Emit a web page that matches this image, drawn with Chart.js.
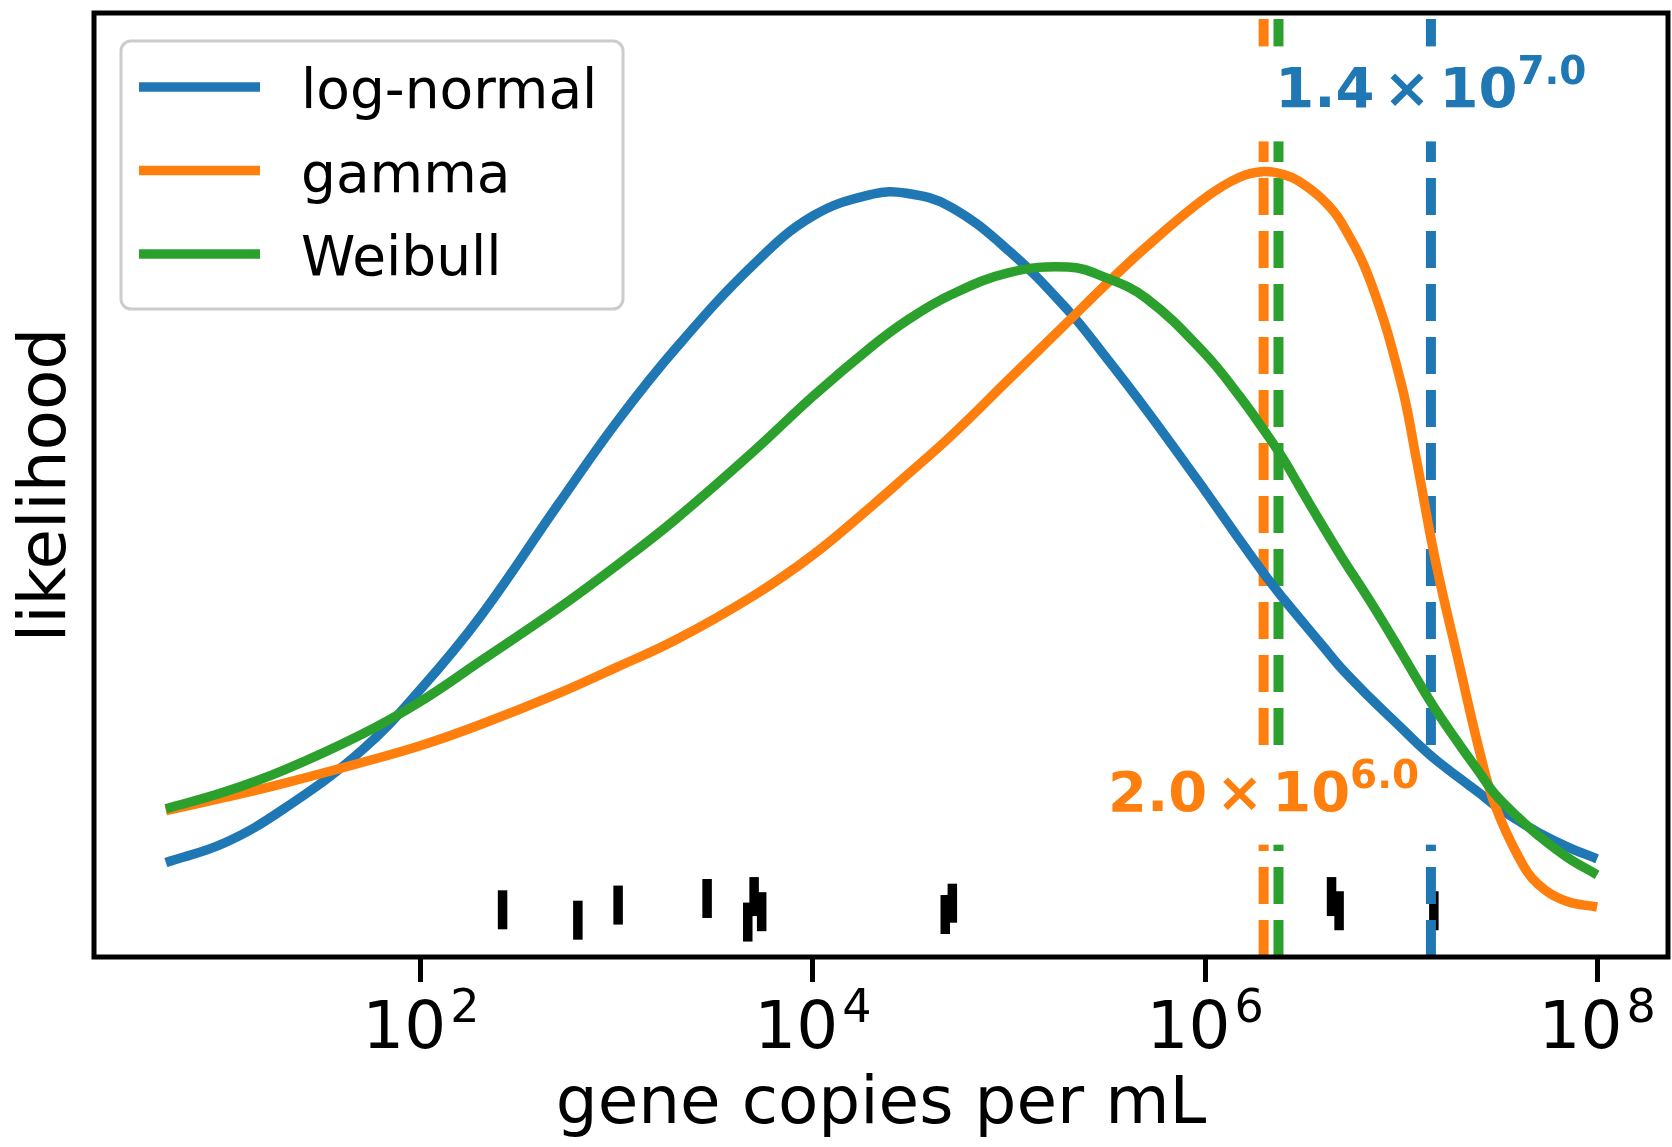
<!DOCTYPE html>
<html>
<head>
<meta charset="utf-8">
<script src="https://cdn.jsdelivr.net/npm/chart.js@4.4.0/dist/chart.umd.min.js"></script>
<style>
  html, body { margin: 0; padding: 0; background: #fff; }
  #wrap { width: 1672px; height: 1147px; }
</style>
</head>
<body>
<div id="wrap"><canvas id="likelihoodChart" width="1672" height="1147"></canvas></div>
<script>
// x positions (gene copies per mL) shared by the three fitted curves
const copies = [5, 10, 20, 50, 100, 200, 500, 1e3, 2e3, 5e3, 1e4, 2e4, 3e4, 5e4, 1e5, 2e5, 3e5, 5e5,
  1e6, 1.5e6, 2e6, 2.5e6, 3e6, 4e6, 5e6, 7e6, 1e7, 1.2e7, 1.5e7, 2e7, 2.5e7, 3e7, 4e7, 5e7, 7e7, 1e8];

// likelihood (arbitrary units, axis runs 0..1)
const logNormal = [0.100, 0.121, 0.157, 0.219, 0.284, 0.360, 0.479, 0.567, 0.645, 0.734, 0.785, 0.808,
  0.809, 0.795, 0.748, 0.685, 0.640, 0.580, 0.494, 0.442, 0.406, 0.380, 0.360, 0.329, 0.305, 0.274,
  0.243, 0.227, 0.209, 0.189, 0.174, 0.161, 0.144, 0.132, 0.117, 0.104];
const gamma = [0.155, 0.169, 0.184, 0.206, 0.224, 0.246, 0.279, 0.307, 0.336, 0.383, 0.426, 0.478,
  0.510, 0.551, 0.612, 0.673, 0.709, 0.752, 0.804, 0.826, 0.832, 0.829, 0.822, 0.802, 0.777, 0.715,
  0.608, 0.526, 0.419, 0.306, 0.220, 0.162, 0.105, 0.077, 0.059, 0.053];
const weibull = [0.157, 0.175, 0.198, 0.236, 0.271, 0.313, 0.369, 0.415, 0.464, 0.536, 0.594, 0.647,
  0.674, 0.701, 0.725, 0.731, 0.721, 0.698, 0.639, 0.594, 0.558, 0.528, 0.500, 0.456, 0.423, 0.376,
  0.323, 0.295, 0.262, 0.224, 0.196, 0.173, 0.147, 0.129, 0.106, 0.087];

// measured samples drawn as a rug (y is only jitter)
const sampleX = [261, 632, 1014, 2884, 4650, 5010, 5475, 47300, 51400, 4.42e6, 4.83e6, 1.47e7];
const sampleY = [0.050, 0.039, 0.055, 0.062, 0.037, 0.064, 0.048, 0.045, 0.057, 0.064, 0.049, 0.049];

const names = ['log-normal', 'gamma', 'Weibull'];
const colors = ['#1f77b4', '#ff7f0e', '#2ca02c'];

// fitted values shown as dashed lines (log-normal, gamma, Weibull)
const fitValues = [1.42e7, 1.99e6, 2.37e6];

// annotations: anchor x, baseline y, mantissa, exponent, series
const noteX = [1.42e7, 1.99e6];
const noteY = [0.900, 0.155];
const noteMantissa = ['1.4', '2.0'];
const noteExponent = ['7.0', '6.0'];
const noteSeries = [0, 1];

const xTicks = [1e2, 1e4, 1e6, 1e8];
const xTickExponents = ['2', '4', '6', '8'];

const FONT = '"DejaVu Sans", "Liberation Sans", sans-serif';

function curveDataset(values, i, order) {
  return {
    label: names[i],
    data: copies.map((x, k) => ({ x: x, y: values[k] })),
    borderColor: colors[i],
    borderWidth: 9.5,
    pointRadius: 0,
    tension: 0.4,
    fill: false,
    order: order
  };
}

function fitLineDataset(i) {
  return {
    label: 'fit ' + names[i],
    data: [{ x: fitValues[i], y: 0 }, { x: fitValues[i], y: 1 }],
    borderColor: colors[i],
    borderWidth: 10,
    borderDash: [37, 16],
    borderCapStyle: 'butt',
    pointRadius: 0,
    fill: false,
    order: 4
  };
}

const datasets = [
  curveDataset(logNormal, 0, 3),
  curveDataset(gamma, 1, 2),
  curveDataset(weibull, 2, 1),
  fitLineDataset(0),
  fitLineDataset(1),
  fitLineDataset(2),
  {
    label: 'samples',
    data: sampleX.map((x, k) => ({ x: x, y: sampleY[k] })),
    showLine: false,
    pointStyle: 'line',
    pointRotation: 90,
    pointRadius: 19.5,
    pointHoverRadius: 19.5,
    pointBorderWidth: 9.5,
    pointBorderColor: '#000',
    pointBackgroundColor: '#000',
    order: 5
  }
];
const lastFitIndex = 3; // drawn last among the dashed lines

function drawSciLabel(ctx, cx, baseY, mantissa, exponent, color) {
  const big = 'bold 56px ' + FONT;
  const small = 'bold 39px ' + FONT;
  ctx.font = big;
  const wM = ctx.measureText(mantissa).width;
  const wX = ctx.measureText('×').width;
  const wT = ctx.measureText('10').width;
  ctx.font = small;
  const wE = ctx.measureText(exponent).width;
  const gap = 9;
  const total = wM + gap + wX + gap + wT + wE;
  let x = cx - total / 2;

  ctx.fillStyle = '#fff';
  ctx.fillRect(x - 20, baseY - 61, total + 40, 95);

  ctx.fillStyle = color;
  ctx.textAlign = 'left';
  ctx.textBaseline = 'alphabetic';
  ctx.font = big;
  ctx.fillText(mantissa, x, baseY);
  x += wM + gap;
  ctx.fillText('×', x, baseY);
  x += wX + gap;
  ctx.fillText('10', x, baseY);
  x += wT;
  ctx.font = small;
  ctx.fillText(exponent, x, baseY - 23);
}

const notesPlugin = {
  id: 'notes',
  afterDatasetDraw(chart, args) {
    if (args.index !== lastFitIndex) return;
    const ctx = chart.ctx;
    const xs = chart.scales.x, ys = chart.scales.y;
    ctx.save();
    noteX.forEach((v, k) => {
      drawSciLabel(ctx, xs.getPixelForValue(v), ys.getPixelForValue(noteY[k]),
        noteMantissa[k], noteExponent[k], colors[noteSeries[k]]);
    });
    ctx.restore();
  }
};

const framePlugin = {
  id: 'frame',
  afterDatasetsDraw(chart) {
    const { ctx, chartArea: a } = chart;
    ctx.save();
    ctx.strokeStyle = '#000';
    ctx.lineWidth = 5;
    ctx.strokeRect(a.left, a.top, a.right - a.left, a.bottom - a.top);
    ctx.restore();
  }
};

// 10^n labels under the x ticks
const powerTicksPlugin = {
  id: 'powerTicks',
  afterDraw(chart) {
    const s = chart.scales.x, ctx = chart.ctx;
    const big = '66px ' + FONT, small = '46px ' + FONT;
    ctx.save();
    ctx.fillStyle = '#000';
    ctx.textAlign = 'left';
    ctx.textBaseline = 'alphabetic';
    xTicks.forEach((v, i) => {
      ctx.font = big;
      const wb = ctx.measureText('10').width;
      ctx.font = small;
      const we = ctx.measureText(xTickExponents[i]).width;
      const x0 = s.getPixelForValue(v) - (wb + 4 + we) / 2;
      const base = s.top + 91;
      ctx.font = big;
      ctx.fillText('10', x0, base);
      ctx.font = small;
      ctx.fillText(xTickExponents[i], x0 + wb + 4, base - 26);
    });
    ctx.restore();
  }
};

const legendPlugin = {
  id: 'boxLegend',
  afterDraw(chart) {
    const ctx = chart.ctx;
    const bx = 121, by = 41, bw = 502, bh = 268, r = 10;
    ctx.save();
    ctx.beginPath();
    ctx.roundRect(bx, by, bw, bh, r);
    ctx.fillStyle = 'rgba(255,255,255,0.8)';
    ctx.fill();
    ctx.strokeStyle = '#cccccc';
    ctx.lineWidth = 3;
    ctx.stroke();

    ctx.font = '55px ' + FONT;
    ctx.textAlign = 'left';
    ctx.textBaseline = 'alphabetic';
    for (let i = 0; i < 3; i++) {
      const ds = chart.data.datasets[i];
      const y = 87 + i * 83.5;
      ctx.beginPath();
      ctx.moveTo(139, y);
      ctx.lineTo(260, y);
      ctx.strokeStyle = ds.borderColor;
      ctx.lineWidth = 9.5;
      ctx.stroke();
      ctx.fillStyle = '#000';
      ctx.fillText(ds.label, 301, y + 21);
    }
    ctx.restore();
  }
};

function noPadding(s) {
  s.paddingLeft = 0;
  s.paddingRight = 0;
  s.paddingTop = 0;
  s.paddingBottom = 0;
}

const ctx = document.getElementById('likelihoodChart').getContext('2d');
new Chart(ctx, {
  type: 'line',
  data: { datasets: datasets },
  options: {
    responsive: false,
    animation: false,
    devicePixelRatio: 1,
    events: [],
    layout: { autoPadding: false, padding: { top: 13, right: 4, bottom: 0, left: 0 } },
    plugins: {
      legend: { display: false },
      tooltip: { enabled: false }
    },
    scales: {
      x: {
        type: 'logarithmic',
        min: 2.15,
        max: 2.3e8,
        afterBuildTicks: (s) => { s.ticks = xTicks.map(v => ({ value: v })); },
        afterFit: (s) => { s.height = 190; noPadding(s); },
        ticks: { display: false },
        grid: {
          display: true,
          drawOnChartArea: false,
          drawTicks: true,
          tickLength: 25,
          tickWidth: 5,
          tickColor: '#000',
          color: '#000'
        },
        border: { display: false },
        title: {
          display: true,
          text: 'gene copies per mL',
          font: { family: FONT, size: 66 },
          color: '#000',
          padding: { top: 0, bottom: 2 }
        }
      },
      y: {
        min: 0,
        max: 1,
        afterFit: (s) => { s.width = 94; noPadding(s); },
        ticks: { display: false },
        grid: { display: false },
        border: { display: false },
        title: {
          display: true,
          text: 'likelihood',
          font: { family: FONT, size: 66 },
          color: '#000',
          padding: { top: 8, bottom: 0 }
        }
      }
    }
  },
  plugins: [notesPlugin, framePlugin, powerTicksPlugin, legendPlugin]
});
</script>
</body>
</html>
